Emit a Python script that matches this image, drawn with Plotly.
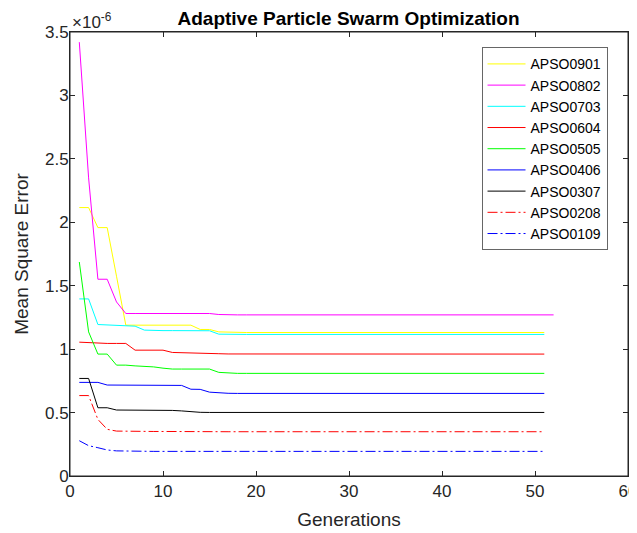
import plotly.graph_objects as go

generations = list(range(1, 53))

names = ["APSO0901", "APSO0802", "APSO0703", "APSO0604", "APSO0505",
         "APSO0406", "APSO0307", "APSO0208", "APSO0109"]

apso0901 = [2.116, 2.116, 1.958, 1.958, 1.575, 1.189, 1.189, 1.189, 1.189, 1.189,
            1.189, 1.189, 1.189, 1.155, 1.155, 1.136, 1.133, 1.131, 1.131, 1.131,
            1.131, 1.131, 1.131, 1.131, 1.131, 1.131, 1.131, 1.131, 1.131, 1.131,
            1.131, 1.131, 1.131, 1.131, 1.131, 1.131, 1.131, 1.131, 1.131, 1.131,
            1.131, 1.131, 1.131, 1.131, 1.131, 1.131, 1.131, 1.131, 1.131, 1.131,
            1.131]
apso0802 = [3.42, 2.35, 1.551, 1.551, 1.372, 1.281, 1.281, 1.281, 1.281, 1.281,
            1.281, 1.281, 1.281, 1.281, 1.281, 1.273, 1.270, 1.270, 1.270, 1.270,
            1.270, 1.270, 1.270, 1.270, 1.270, 1.270, 1.270, 1.270, 1.270, 1.270,
            1.270, 1.270, 1.270, 1.270, 1.270, 1.270, 1.270, 1.270, 1.270, 1.270,
            1.270, 1.270, 1.270, 1.270, 1.270, 1.270, 1.270, 1.270, 1.270, 1.270,
            1.270, 1.270]
apso0703 = [1.396, 1.396, 1.194, 1.190, 1.186, 1.183, 1.181, 1.150, 1.146, 1.146,
            1.146, 1.146, 1.146, 1.146, 1.145, 1.118, 1.116, 1.116, 1.116, 1.116,
            1.116, 1.116, 1.116, 1.116, 1.116, 1.116, 1.116, 1.116, 1.116, 1.116,
            1.116, 1.116, 1.116, 1.116, 1.116, 1.116, 1.116, 1.116, 1.116, 1.116,
            1.116, 1.116, 1.116, 1.116, 1.116, 1.116, 1.116, 1.116, 1.116, 1.116,
            1.116]
apso0604 = [1.055, 1.050, 1.045, 1.045, 1.045, 1.045, 0.992, 0.992, 0.992, 0.992,
            0.974, 0.971, 0.968, 0.966, 0.965, 0.964, 0.962, 0.962, 0.961, 0.961,
            0.961, 0.961, 0.961, 0.961, 0.961, 0.961, 0.961, 0.961, 0.961, 0.961,
            0.961, 0.961, 0.961, 0.961, 0.961, 0.961, 0.961, 0.961, 0.961, 0.961,
            0.961, 0.961, 0.961, 0.961, 0.961, 0.961, 0.961, 0.961, 0.961, 0.961,
            0.961]
apso0505 = [1.687, 1.136, 0.961, 0.961, 0.874, 0.874, 0.868, 0.864, 0.860, 0.850,
            0.843, 0.843, 0.843, 0.843, 0.843, 0.817, 0.811, 0.809, 0.809, 0.809,
            0.809, 0.809, 0.809, 0.809, 0.809, 0.809, 0.809, 0.809, 0.809, 0.809,
            0.809, 0.809, 0.809, 0.809, 0.809, 0.809, 0.809, 0.809, 0.809, 0.809,
            0.809, 0.809, 0.809, 0.809, 0.809, 0.809, 0.809, 0.809, 0.809, 0.809,
            0.809]
apso0406 = [0.738, 0.738, 0.738, 0.717, 0.717, 0.717, 0.717, 0.717, 0.717, 0.717,
            0.717, 0.714, 0.684, 0.683, 0.661, 0.655, 0.652, 0.651, 0.651, 0.651,
            0.651, 0.651, 0.651, 0.651, 0.651, 0.651, 0.651, 0.651, 0.651, 0.651,
            0.651, 0.651, 0.651, 0.651, 0.651, 0.651, 0.651, 0.651, 0.651, 0.651,
            0.651, 0.651, 0.651, 0.651, 0.651, 0.651, 0.651, 0.651, 0.651, 0.651,
            0.651]
apso0307 = [0.769, 0.769, 0.538, 0.538, 0.520, 0.520, 0.520, 0.520, 0.520, 0.520,
            0.517, 0.513, 0.507, 0.502, 0.501, 0.501, 0.501, 0.501, 0.501, 0.501,
            0.501, 0.501, 0.501, 0.501, 0.501, 0.501, 0.501, 0.501, 0.501, 0.501,
            0.501, 0.501, 0.501, 0.501, 0.501, 0.501, 0.501, 0.501, 0.501, 0.501,
            0.501, 0.501, 0.501, 0.501, 0.501, 0.501, 0.501, 0.501, 0.501, 0.501,
            0.501]
apso0208 = [0.634, 0.634, 0.446, 0.368, 0.354, 0.352, 0.351, 0.351, 0.351, 0.351,
            0.350, 0.350, 0.350, 0.350, 0.350, 0.349, 0.349, 0.349, 0.349, 0.349,
            0.349, 0.349, 0.349, 0.349, 0.349, 0.349, 0.349, 0.349, 0.349, 0.349,
            0.349, 0.349, 0.349, 0.349, 0.349, 0.349, 0.349, 0.349, 0.349, 0.349,
            0.349, 0.349, 0.349, 0.349, 0.349, 0.349, 0.349, 0.349, 0.349, 0.349,
            0.349]
apso0109 = [0.278, 0.239, 0.223, 0.205, 0.198, 0.196, 0.195, 0.194, 0.194, 0.194,
            0.194, 0.194, 0.194, 0.194, 0.194, 0.194, 0.194, 0.194, 0.194, 0.194,
            0.194, 0.194, 0.194, 0.194, 0.194, 0.194, 0.194, 0.194, 0.194, 0.194,
            0.194, 0.194, 0.194, 0.194, 0.194, 0.194, 0.194, 0.194, 0.194, 0.194,
            0.194, 0.194, 0.194, 0.194, 0.194, 0.194, 0.194, 0.194, 0.194, 0.194,
            0.194]

series = [apso0901, apso0802, apso0703, apso0604, apso0505,
          apso0406, apso0307, apso0208, apso0109]
colors = ["#FFFF00", "#FF00FF", "#00FFFF", "#FF0000", "#00FF00",
          "#0000FF", "#000000", "#FF0000", "#0000FF"]
dashes = ["solid"] * 7 + ["10px,3px,2px,3px", "10px,3px,2px,3px"]

x_ticks = [0, 10, 20, 30, 40, 50, 60]
y_ticks = [0, 0.5, 1, 1.5, 2, 2.5, 3, 3.5]

FONT = "Liberation Sans, Arial, sans-serif"
INK = "#262626"

fig = go.Figure()
for name, vals, col, dash in zip(names, series, colors, dashes):
    fig.add_trace(go.Scatter(
        x=generations[:len(vals)], y=vals, mode="lines", name=name,
        line=dict(color=col, width=1, dash=dash),
    ))

axis_common = dict(
    showgrid=False, zeroline=False, showline=True, linecolor=INK, linewidth=1,
    mirror="ticks", ticks="inside", ticklen=5, tickcolor=INK, automargin=False,
    ticklabeloverflow="allow",
    tickfont=dict(family=FONT, size=17, color=INK),
)

# page body has an 8px margin, so the figure is sized to the remaining viewport
fig.update_layout(
    width=629, height=525,
    margin=dict(l=62, r=9, t=24, b=57),
    paper_bgcolor="white", plot_bgcolor="white",
    font=dict(family=FONT, color=INK),
    title=dict(text="<b>Adaptive Particle Swarm Optimization</b>",
               x=0.5414, xanchor="center", y=0.981, yanchor="middle",
               font=dict(family=FONT, size=19, color="#000000")),
    xaxis=dict(range=[0, 60], tickvals=x_ticks,
               title=dict(text="Generations", font=dict(family=FONT, size=19, color=INK), standoff=12),
               **axis_common),
    yaxis=dict(range=[0, 3.5], tickvals=y_ticks, ticklabelstandoff=-3,
               title=dict(text="Mean Square Error", font=dict(family=FONT, size=19, color=INK), standoff=11),
               **axis_common),
    legend=dict(x=0.7375, y=0.9655, xanchor="left", yanchor="top",
                bgcolor="white", bordercolor="#666666", borderwidth=1,
                font=dict(family=FONT, size=14, color="#000000"),
                itemwidth=38),
    showlegend=True,
)

fig.add_shape(type="rect", xref="paper", yref="paper", x0=0, y0=0, x1=1, y1=1,
              line=dict(color=INK, width=1), fillcolor="rgba(0,0,0,0)", layer="above")

fig.add_annotation(xref="paper", yref="paper", x=0.0, y=1.0, xanchor="left", yanchor="bottom",
                   text="\u00d710<sup>-6</sup>", showarrow=False,
                   font=dict(family=FONT, size=17, color=INK), yshift=-2)

fig.write_html("out.html")
